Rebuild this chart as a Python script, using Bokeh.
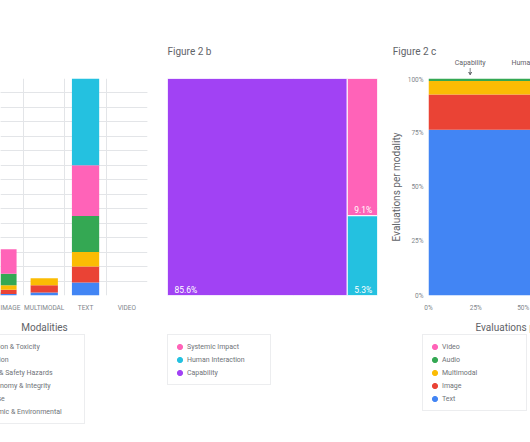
import numpy as np
from bokeh.plotting import figure
from bokeh.models import (ColumnDataSource, FixedTicker, Legend, LegendItem, Label,
                          Range1d, Arrow, VeeHead, Grid, NumeralTickFormatter)
from bokeh.layouts import row, column
from bokeh.embed import file_html
from bokeh.resources import INLINE
from bokeh.core.properties import value

FONT = "Roboto"
DARK = "#5f6368"
LIGHT = "#80868b"
LEG_TXT = "#6f7378"
GRID = "#e3e5e8"

# ---------------- Figure 2a data (evaluations per modality, stacked by harm area) -------------
modalities = ["AUDIO", "IMAGE", "MULTIMODAL", "TEXT", "VIDEO"]
socioeconomic = [0, 1, 2, 9, 0]
malicious_use = [1, 3, 5, 11, 0]
autonomy = [0, 3, 5, 10, 0]
info_hazards = [1, 8, 0, 25, 0]
misinformation = [0, 17, 0, 35, 0]
representation = [0, 0, 0, 60, 0]
harm_labels = ["Socioeconomic & Environmental", "Malicious Use", "Human Autonomy & Integrity",
               "Information & Safety Hazards", "Misinformation", "Representation & Toxicity"]
harm_colors = ["#4285F4", "#EA4335", "#FBBC04", "#34A853", "#FF63B8", "#24C1E0"]
count_ticks = list(range(0, 151, 10))

# ---------------- Figure 2b data (treemap of layers) -------------
layers = ["Capability", "Human Interaction", "Systemic Impact"]
layer_share = [85.6, 5.3, 9.1]
layer_colors = ["#A142F4", "#24C1E0", "#FF63B8"]

# ---------------- Figure 2c data (modality split within Capability) -------------
modality_names = ["Text", "Image", "Multimodal", "Audio", "Video"]
capability_modality_share = [76.4, 16.2, 6.2, 1.2, 0.0]
modality_colors = ["#4285F4", "#EA4335", "#FBBC04", "#34A853", "#FF63B8"]
pct_ticks = [0, 0.25, 0.5, 0.75, 1.0]

# ---------------- layout constants -------------
HEAD_H = 75          # title row
MAIN_H = 239         # chart row
LEG_H = 128          # legend row
MB_TOP = 3
MB_BOT = 18
WA, WB, WC = 160, 227, 143
C_LEFT = 36
PX_PER_UNIT_C = 198.6
ROW2_TOP = HEAD_H + MAIN_H   # y of legend row top in page px


def style_legend(lg, label_width):
    lg.label_text_font = FONT
    lg.label_text_font_size = "7px"
    lg.label_text_color = LEG_TXT
    lg.glyph_width = 13
    lg.glyph_height = 13
    lg.label_height = 13
    lg.label_standoff = 1
    lg.label_width = label_width
    lg.spacing = 0
    lg.padding = 5
    lg.margin = 0
    lg.border_line_color = "#dadce0"
    lg.border_line_width = 1
    lg.background_fill_color = "white"
    lg.background_fill_alpha = 1


def bare_fig(width, height, x_range=None, y_range=None):
    f = figure(width=width, height=height,
               x_range=x_range if x_range is not None else Range1d(0, 1),
               y_range=y_range if y_range is not None else Range1d(0, 1),
               output_backend="svg", toolbar_location=None,
               x_axis_location=None, y_axis_location=None,
               min_border_left=0, min_border_right=0, min_border_top=0, min_border_bottom=0,
               outline_line_color=None)
    f.grid.visible = False
    return f


def marker(f, color):
    return f.scatter(x=np.array([np.nan]), y=np.array([np.nan]), marker="circle",
                     color=color, size=1)


def text_label(f, x, y, text, size="10px", color=DARK, align="left", baseline="alphabetic", **kw):
    f.add_layout(Label(x=x, y=y, text=text, text_align=align, text_baseline=baseline,
                       text_font=FONT, text_font_size=size, text_color=color, **kw))


# ================= title row =================
ta = bare_fig(WA, HEAD_H)
tb = bare_fig(WB, HEAD_H)
text_label(tb, 7, HEAD_H - 50.7, "Figure 2 b", x_units="screen", y_units="screen")
tc = bare_fig(WC, HEAD_H,
              x_range=Range1d(-C_LEFT / PX_PER_UNIT_C, (WC - C_LEFT) / PX_PER_UNIT_C),
              y_range=Range1d(0, HEAD_H))
text_label(tc, 5.3, HEAD_H - 50.7, "Figure 2 c", x_units="screen", y_units="screen")
text_label(tc, 0.235, HEAD_H - 62.5, "Capability", size="7px", align="center", baseline="middle")
text_label(tc, 0.443, HEAD_H - 62.5, "Human Interaction", size="7px", baseline="middle")
tc.add_layout(Arrow(x_start=0.235, y_start=HEAD_H - 67.5, x_end=0.235, y_end=HEAD_H - 74.5,
                    line_color=DARK, line_width=0.8,
                    end=VeeHead(size=3, line_color=DARK, line_width=0.8, fill_color=DARK)))

# ================= Figure A =================
cat_w = 41.3
a_frame_w = 147
pa = figure(width=WA, height=MAIN_H,
            x_range=Range1d(len(modalities) - 0.5 - a_frame_w / cat_w, len(modalities) - 0.5),
            y_range=Range1d(0, 150),
            output_backend="svg", toolbar_location=None, y_axis_location=None,
            min_border_left=0, min_border_right=WA - a_frame_w,
            min_border_top=MB_TOP, min_border_bottom=MB_BOT, outline_line_color=None)
src_a = ColumnDataSource(dict(x=list(range(len(modalities))),
                              s0=socioeconomic, s1=malicious_use, s2=autonomy,
                              s3=info_hazards, s4=misinformation, s5=representation))
pa.vbar_stack(["s0", "s1", "s2", "s3", "s4", "s5"], x="x", width=0.66, color=harm_colors,
              line_color=None, source=src_a)
pa.xgrid.ticker = FixedTicker(ticks=[i - 0.5 for i in range(len(modalities) + 1)])
pa.xgrid.grid_line_color = GRID
pa.add_layout(Grid(dimension=1, ticker=FixedTicker(ticks=count_ticks), grid_line_color=GRID))
ax = pa.xaxis[0]
ax.ticker = FixedTicker(ticks=list(range(len(modalities))))
ax.major_label_overrides = {i: m for i, m in enumerate(modalities)}
ax.axis_line_color = None
ax.major_tick_line_color = None
ax.minor_tick_line_color = None
ax.major_tick_out = 0
ax.major_label_standoff = 8
ax.major_label_text_font = FONT
ax.major_label_text_font_size = "6.5px"
ax.major_label_text_color = LIGHT

# ================= Figure B =================
pb = figure(width=WB, height=MAIN_H, x_range=Range1d(0, 1), y_range=Range1d(0, 1),
            output_backend="svg", toolbar_location=None,
            x_axis_location=None, y_axis_location=None,
            min_border_left=7, min_border_right=10, min_border_top=MB_TOP,
            min_border_bottom=MB_BOT, outline_line_color=None)
share = np.array(layer_share) / 100.0
cap_right = share[0]
hi_top = share[1] / (share[1] + share[2])  # Human Interaction at bottom of right column
src_b = ColumnDataSource(dict(left=[0.0, cap_right, cap_right], right=[cap_right, 1.0, 1.0],
                              bottom=[0.0, 0.0, hi_top], top=[1.0, hi_top, 1.0], color=layer_colors,
                              label=[f"{v:.1f}%" for v in layer_share], name=layers))
pb.quad(left="left", right="right", bottom="bottom", top="top", fill_color="color",
        line_color="white", line_width=1, source=src_b)
pb.text(x="left", y="bottom", text="label", x_offset=7, y_offset=-6, text_font=value(FONT),
        text_font_size="8.5px", text_color="white", text_baseline="alphabetic", source=src_b)

# ================= Figure C =================
pc = figure(width=WC, height=MAIN_H, x_range=Range1d(0, (WC - C_LEFT) / PX_PER_UNIT_C),
            y_range=Range1d(0, 1),
            output_backend="svg", toolbar_location=None,
            min_border_left=C_LEFT, min_border_right=0, min_border_top=MB_TOP,
            min_border_bottom=MB_BOT, outline_line_color=None)
pc.grid.visible = False
cum = np.concatenate([[0], np.cumsum(capability_modality_share)]) / 100.0
for i, (name, col) in enumerate(zip(modality_names, modality_colors)):
    pc.quad(left=[0], right=[share[0]], bottom=[cum[i]], top=[cum[i + 1]],
            fill_color=col, line_color=None)
for axis in (pc.xaxis[0], pc.yaxis[0]):
    axis.ticker = FixedTicker(ticks=pct_ticks)
    axis.formatter = NumeralTickFormatter(format="0%")
    axis.axis_line_color = None
    axis.major_tick_line_color = None
    axis.minor_tick_line_color = None
    axis.major_tick_out = 0
    axis.major_label_text_font = FONT
    axis.major_label_text_font_size = "6.5px"
    axis.major_label_text_color = LIGHT
pc.xaxis[0].major_label_standoff = 8
yax = pc.yaxis[0]
yax.major_label_standoff = 5
yax.axis_label = "Evaluations per modality"
yax.axis_label_text_font = FONT
yax.axis_label_text_font_size = "10px"
yax.axis_label_text_font_style = "normal"
yax.axis_label_text_color = DARK
yax.axis_label_standoff = 3

# ================= legend row =================
la = bare_fig(WA, LEG_H)
text_label(la, 44, LEG_H - (326.7 - ROW2_TOP), "Modalities", align="center",
           x_units="screen", y_units="screen")
dummy_a = {lab: marker(la, col) for lab, col in zip(harm_labels, harm_colors)}
leg_a = Legend(items=[LegendItem(label=lab, renderers=[dummy_a[lab]]) for lab in reversed(harm_labels)],
               location=(-59, LEG_H - (424 - ROW2_TOP)))
style_legend(leg_a, 118)
la.add_layout(leg_a, "center")

lb = bare_fig(WB, LEG_H)
dummy_b = {lab: marker(lb, col) for lab, col in zip(layers, layer_colors)}
leg_b = Legend(items=[LegendItem(label=lab, renderers=[dummy_b[lab]])
                      for lab in ["Systemic Impact", "Human Interaction", "Capability"]],
               location=(7, LEG_H - (385 - ROW2_TOP)))
style_legend(leg_b, 78)
lb.add_layout(leg_b, "center")

lc = bare_fig(WC, LEG_H)
text_label(lc, 475 - WA - WB, LEG_H - (326.7 - ROW2_TOP), "Evaluations per layer",
           x_units="screen", y_units="screen")
dummy_c = {n: marker(lc, c) for n, c in zip(modality_names, modality_colors)}
leg_c = Legend(items=[LegendItem(label=n, renderers=[dummy_c[n]]) for n in reversed(modality_names)],
               location=(35, LEG_H - (411 - ROW2_TOP)))
style_legend(leg_c, 79)
lc.add_layout(leg_c, "center")

layout = column(row(ta, tb, tc), row(pa, pb, pc), row(la, lb, lc))
open("out.html", "w").write(file_html(layout, INLINE))
